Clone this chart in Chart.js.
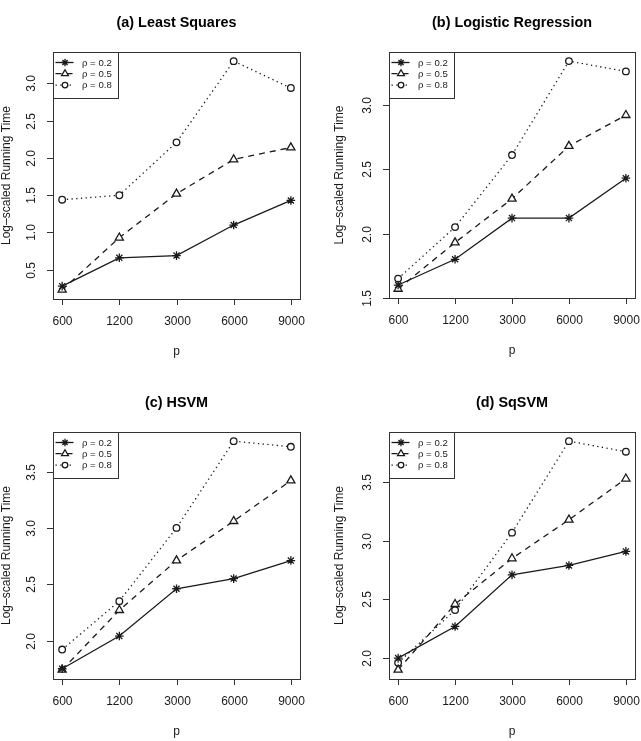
<!DOCTYPE html>
<html>
<head>
<meta charset="utf-8">
<script src="https://cdn.jsdelivr.net/npm/chart.js@4.4.1/dist/chart.umd.min.js"></script>
<style>
  body { margin: 0; background: #fff; }
  #wrap { position: relative; width: 641px; height: 741px; }
  .panel { position: absolute; }
</style>
</head>
<body>
<div id="wrap"></div>
<script>
// abscisse : valeurs de p (espacées régulièrement)
const pLabels = ["600", "1200", "3000", "6000", "9000"];
const rhoLabels = ["ρ = 0.2", "ρ = 0.5", "ρ = 0.8"];

// (a) Least Squares
const lsRho02 = [0.28, 0.66, 0.69, 1.10, 1.43];
const lsRho05 = [0.23, 0.93, 1.52, 1.98, 2.14];
const lsRho08 = [1.44, 1.50, 2.21, 3.30, 2.94];
const lsTicks = [0.5, 1.0, 1.5, 2.0, 2.5, 3.0];

// (b) Logistic Regression
const lrRho02 = [1.60, 1.80, 2.12, 2.12, 2.43];
const lrRho05 = [1.57, 1.93, 2.27, 2.68, 2.92];
const lrRho08 = [1.65, 2.05, 2.61, 3.34, 3.26];
const lrTicks = [1.5, 2.0, 2.5, 3.0];

// (c) HSVM
const hsvmRho02 = [1.75, 2.04, 2.46, 2.55, 2.71];
const hsvmRho05 = [1.74, 2.27, 2.71, 3.06, 3.42];
const hsvmRho08 = [1.92, 2.35, 3.00, 3.77, 3.72];
const hsvmTicks = [2.0, 2.5, 3.0, 3.5];

// (d) SqSVM
const sqRho02 = [2.00, 2.27, 2.71, 2.79, 2.91];
const sqRho05 = [1.90, 2.46, 2.85, 3.18, 3.53];
const sqRho08 = [1.96, 2.41, 3.07, 3.85, 3.76];
const sqTicks = [2.0, 2.5, 3.0, 3.5];

const FONT = "'Liberation Sans', Arial, sans-serif";
const INK = "#1a1a1a";

// styles des trois séries (comme lty / pch dans R)
const seriesStyle = [
    { dash: [], point: "star", radius: 4.3 },
    { dash: [6, 5], point: "triangle", radius: 4.7 },
    { dash: [1.3, 3.4], point: "circle", radius: 3.3 }
];

// étendue des axes à la manière de R (+/- 4 %)
function rRange(values) {
    const lo = Math.min(...values), hi = Math.max(...values);
    const d = (hi - lo) * 0.04;
    return [lo - d, hi + d];
}

// plugin qui dessine cadre, graduations, titres et légende
const rPlot = {
    id: "rPlot",
    afterDatasetsDraw(chart, args, opts) {
        const { ctx, chartArea: a, scales: { x, y } } = chart;
        ctx.save();
        ctx.strokeStyle = "#333";
        ctx.fillStyle = INK;
        ctx.lineWidth = 1;
        ctx.setLineDash([]);
        ctx.strokeRect(Math.round(a.left) + 0.5, Math.round(a.top) + 0.5,
            Math.round(a.right - a.left), Math.round(a.bottom - a.top));

        // axe x
        ctx.font = "12px " + FONT;
        ctx.textAlign = "center";
        ctx.textBaseline = "middle";
        pLabels.forEach((lab, i) => {
            const px = Math.round(x.getPixelForValue(i + 1)) + 0.5;
            ctx.beginPath();
            ctx.moveTo(px, a.bottom);
            ctx.lineTo(px, a.bottom + 6);
            ctx.stroke();
            ctx.fillText(lab, px, a.bottom + 22.7);
        });

        // axe y (étiquettes tournées)
        opts.yTicks.forEach(v => {
            const py = Math.round(y.getPixelForValue(v)) + 0.5;
            ctx.beginPath();
            ctx.moveTo(a.left - 6, py);
            ctx.lineTo(a.left, py);
            ctx.stroke();
            ctx.save();
            ctx.translate(a.left - 21, py);
            ctx.rotate(-Math.PI / 2);
            ctx.fillText(v.toFixed(1), 0, 0);
            ctx.restore();
        });

        const cx = (a.left + a.right) / 2;
        const cy = (a.top + a.bottom) / 2;

        // titres des axes
        ctx.font = "12px " + FONT;
        ctx.fillText("p", cx, a.bottom + 52.5);
        ctx.save();
        ctx.translate(a.left - opts.yLabGap, cy);
        ctx.rotate(-Math.PI / 2);
        ctx.fillText("Log–scaled Running Time", 0, 0);
        ctx.restore();

        // titre principal
        ctx.font = "bold 14.4px " + FONT;
        ctx.fillStyle = "#000";
        ctx.fillText(opts.title, cx, a.top - 28.8);

        // légende (topleft)
        const lx = Math.round(a.left) + 0.5, ly = Math.round(a.top) + 0.5;
        ctx.strokeStyle = "#333";
        ctx.lineWidth = 1;
        ctx.strokeRect(lx, ly, 65, 46);
        ctx.font = "9.6px " + FONT;
        ctx.textAlign = "left";
        const rows = [10, 21.2, 32.6];
        seriesStyle.forEach((s, i) => {
            const ry = ly + rows[i];
            ctx.strokeStyle = INK;
            ctx.lineWidth = 1.3;
            ctx.setLineDash(s.dash);
            ctx.beginPath();
            ctx.moveTo(lx + 2, ry);
            ctx.lineTo(lx + 20, ry);
            ctx.stroke();
            ctx.setLineDash([]);
            ctx.fillStyle = "#fff";
            Chart.helpers.drawPoint(ctx, {
                pointStyle: s.point, radius: s.radius * 0.85, rotation: 0, borderWidth: 1.2
            }, lx + 11.5, ry);
            ctx.fillStyle = INK;
            ctx.fillText(rhoLabels[i], lx + 28.5, ry + 0.5);
        });
        ctx.restore();
    }
};

function makePanel(cfg) {
    const div = document.createElement("div");
    div.className = "panel";
    div.style.left = cfg.left + "px";
    div.style.top = cfg.top + "px";
    div.style.width = cfg.w + "px";
    div.style.height = cfg.h + "px";
    const canvas = document.createElement("canvas");
    div.appendChild(canvas);
    document.getElementById("wrap").appendChild(div);

    const [yMin, yMax] = rRange(cfg.series.flat());
    const [xMin, xMax] = rRange([1, pLabels.length]);

    return new Chart(canvas.getContext("2d"), {
        type: "line",
        data: {
            datasets: cfg.series.map((vals, i) => ({
                label: rhoLabels[i],
                data: vals.map((v, j) => ({ x: j + 1, y: v })),
                borderColor: INK,
                backgroundColor: "#fff",
                borderWidth: 1.3,
                borderDash: seriesStyle[i].dash,
                pointStyle: seriesStyle[i].point,
                pointRadius: seriesStyle[i].radius,
                pointBorderWidth: 1.3,
                pointBorderColor: INK,
                pointBackgroundColor: "#fff",
                tension: 0
            }))
        },
        options: {
            responsive: true,
            maintainAspectRatio: false,
            animation: false,
            layout: { padding: cfg.pad },
            plugins: {
                legend: { display: false },
                tooltip: { enabled: false },
                rPlot: { title: cfg.title, yTicks: cfg.ticks, yLabGap: cfg.yLabGap }
            },
            scales: {
                x: { type: "linear", min: xMin, max: xMax, display: false },
                y: { type: "linear", min: yMin, max: yMax, display: false }
            }
        },
        plugins: [rPlot]
    });
}

makePanel({ title: "(a) Least Squares", series: [lsRho02, lsRho05, lsRho08], ticks: lsTicks, yLabGap: 46,
    left: 0, top: 0, w: 320, h: 380, pad: { left: 53, top: 52, right: 20, bottom: 81 } });
makePanel({ title: "(b) Logistic Regression", series: [lrRho02, lrRho05, lrRho08], ticks: lrTicks, yLabGap: 49,
    left: 320, top: 0, w: 321, h: 380, pad: { left: 69, top: 52, right: 5, bottom: 82 } });
makePanel({ title: "(c) HSVM", series: [hsvmRho02, hsvmRho05, hsvmRho08], ticks: hsvmTicks, yLabGap: 46,
    left: 0, top: 380, w: 320, h: 361, pad: { left: 53, top: 52, right: 20, bottom: 62 } });
makePanel({ title: "(d) SqSVM", series: [sqRho02, sqRho05, sqRho08], ticks: sqTicks, yLabGap: 49,
    left: 320, top: 380, w: 321, h: 361, pad: { left: 69, top: 52, right: 5, bottom: 62 } });
</script>
</body>
</html>
